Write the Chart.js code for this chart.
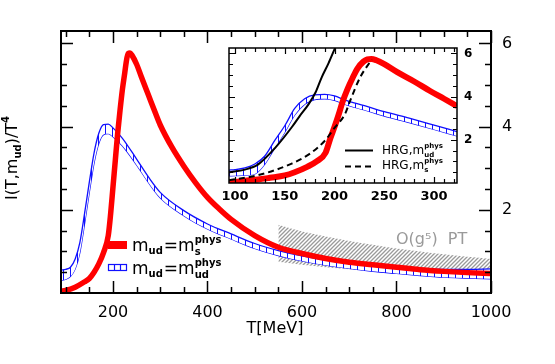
<!DOCTYPE html>
<html><head><meta charset="utf-8">
<script src="https://cdn.jsdelivr.net/npm/chart.js@4/dist/chart.umd.min.js"></script>
<style>
html,body{margin:0;padding:0;background:#fff;}
#wrap{position:relative;width:555px;height:364px;}
#main{position:absolute;left:0;top:0;}
#inset{position:absolute;left:215px;top:40px;}
</style></head>
<body>
<div id="wrap">
<canvas id="main" width="555" height="364"></canvas>
<canvas id="inset" width="270" height="170"></canvas>
</div>
<script>
// ---------- data ----------
// main panel
const redT   = [90,100,120,140,150,160,170,180,190,195,200,205,210,215,220,225,228,232,236,240,250,260,275,290,300,325,350,375,400,425,450,500,550,600,650,700,750,800,850,900,950,1000];
const redVal = [0.04,0.06,0.14,0.27,0.35,0.5,0.7,0.97,1.38,1.9,2.55,3.2,3.85,4.4,4.9,5.3,5.55,5.76,5.77,5.72,5.5,5.2,4.76,4.32,4.04,3.5,3.05,2.65,2.3,2.02,1.77,1.38,1.1,0.95,0.83,0.74,0.68,0.62,0.56,0.52,0.49,0.47];

const blueT     = [90,100,110,120,130,140,150,160,170,180,190,200,220,250,275,300,350,400,450,500,550,600,650,700,750,800,850,900,950,1000];
const blueUpper = [0.55,0.57,0.62,0.82,1.22,1.92,2.67,3.37,3.84,4.05,4.06,3.97,3.72,3.22,2.79,2.42,1.98,1.66,1.42,1.19,1.02,0.89,0.79,0.71,0.65,0.61,0.58,0.57,0.57,0.58];
const blueLower = [0.3,0.33,0.4,0.58,0.98,1.68,2.43,3.13,3.6,3.81,3.83,3.76,3.54,3.08,2.66,2.29,1.86,1.54,1.3,1.07,0.9,0.77,0.67,0.59,0.52,0.47,0.42,0.38,0.36,0.34];

const pertT     = [550,600,650,700,750,800,850,900,950,1000];
const pertUpper = [1.64,1.48,1.36,1.25,1.16,1.07,1.0,0.93,0.87,0.82];
const pertLower = [0.75,0.68,0.62,0.57,0.53,0.5,0.47,0.44,0.42,0.4];

const mainXLabels = [200,400,600,800,1000];
const mainXMinor  = [100,150,250,300,350,450,500,550,650,700,750,850,900,950];
const mainYLabels = [2,4,6];
const mainYMinor  = [0.5,1,1.5,2.5,3,3.5,4.5,5,5.5];

// inset panel
const inRedT   = [94,100,110,123,135,150,160,173,182,191,196,200,204,208,213,218,223,229,233,237,242,250,263,280,296,310,323];
const inRedVal = [0.04,0.05,0.1,0.16,0.24,0.35,0.5,0.76,1.0,1.4,2.1,2.6,3.15,3.75,4.35,4.85,5.3,5.62,5.72,5.74,5.68,5.5,5.13,4.7,4.26,3.9,3.56];

const inBlueT     = [94,100,110,120,130,140,150,160,170,180,190,200,210,230,250,275,300,323];
const inBlueUpper = [0.6,0.62,0.7,0.88,1.25,1.97,2.65,3.45,3.9,4.08,4.1,4.03,3.85,3.58,3.3,3.0,2.68,2.38];
const inBlueLower = [0.33,0.34,0.36,0.42,0.88,1.62,2.35,3.15,3.65,3.86,3.9,3.83,3.65,3.38,3.1,2.8,2.48,2.18];

const hrgUdT   = [94,110,123,141,157,165,174,181,187,194,201,205];
const hrgUdVal = [0.5,0.62,0.85,1.66,2.58,3.1,3.65,4.2,4.88,5.55,6.3,6.7];
const hrgST    = [94,123,157,175,190.5,200,210.6,215.6,225.6,237.4];
const hrgSVal  = [0.13,0.36,0.9,1.35,1.97,2.55,3.2,3.8,4.88,5.72];

const inXLabels = [100,150,200,250,300];
const inXMinor  = [100,110,120,130,140,160,170,180,190,210,220,230,240,260,270,280,290,310,320];
const inYLabels = [2,4,6];
const inYMinor  = [0.5,1,1.5,2.5,3,3.5,4.5,5,5.5];

// ---------- helpers ----------
const FONT = '"DejaVu Sans", sans-serif';
const RED = '#ff0000', BLUE = '#1010ff', GRAY = '#9a9a9a';
const pts = (xs, ys) => xs.map((x, i) => ({x: x, y: ys[i]}));
const noPad = s => { s.paddingTop = 0; s.paddingBottom = 0; s.paddingLeft = 0; s.paddingRight = 0; };

function makePattern(kind) {
  const c = document.createElement('canvas');
  const g = c.getContext('2d');
  if (kind === 'blue') {
    c.width = 7; c.height = 6;
    g.fillStyle = '#fff'; g.fillRect(0, 0, 7, 6);
    g.fillStyle = BLUE; g.fillRect(0, 0, 1, 6);
  } else {
    c.width = 4; c.height = 4;
    g.strokeStyle = GRAY; g.lineWidth = 1.3;
    g.beginPath();
    g.moveTo(-1, 5); g.lineTo(5, -1);
    g.moveTo(-1, 1); g.lineTo(1, -1);
    g.moveTo(3, 5); g.lineTo(5, 3);
    g.stroke();
  }
  return g.createPattern(c, 'repeat');
}

// rich text: parts [{t, size, bold, dy, dx}]
function richText(ctx, x, y, parts, measureOnly) {
  let cx = x;
  for (const p of parts) {
    ctx.font = (p.bold ? 'bold ' : '') + p.size + 'px ' + FONT;
    if (p.dx) cx += p.dx;
    if (!measureOnly) ctx.fillText(p.t, cx, y + (p.dy || 0));
    if (!p.noAdvance) cx += ctx.measureText(p.t).width;
  }
  return cx - x;
}

function tickPlugin(cfg) {
  return {
    id: 'ticks_' + cfg.name,
    beforeDraw(chart) {
      if (cfg.whiteArea) {
        const a = chart.chartArea, ctx = chart.ctx;
        ctx.save(); ctx.fillStyle = '#fff';
        ctx.fillRect(a.left, a.top, a.right - a.left, a.bottom - a.top);
        ctx.restore();
      }
    },
    afterDraw(chart) {
      const ctx = chart.ctx, a = chart.chartArea;
      const xs = chart.scales.x, ys = chart.scales[cfg.yId];
      ctx.save();
      ctx.strokeStyle = '#000'; ctx.lineWidth = cfg.lw;
      ctx.beginPath();
      const xt = (v, len) => { const p = Math.round(xs.getPixelForValue(v)) + 0.5;
        ctx.moveTo(p, a.bottom); ctx.lineTo(p, a.bottom - len);
        ctx.moveTo(p, a.top); ctx.lineTo(p, a.top + len); };
      const yt = (v, len) => { const p = Math.round(ys.getPixelForValue(v)) + 0.5;
        ctx.moveTo(a.left, p); ctx.lineTo(a.left + len, p);
        ctx.moveTo(a.right, p); ctx.lineTo(a.right - len, p); };
      cfg.xMajor.forEach(v => xt(v, cfg.major));
      cfg.xMinor.forEach(v => xt(v, cfg.minor));
      cfg.yMajor.forEach(v => yt(v, cfg.major));
      cfg.yMinor.forEach(v => yt(v, cfg.minor));
      ctx.stroke();
      ctx.lineWidth = cfg.frame;
      ctx.strokeRect(a.left, a.top, a.right - a.left, a.bottom - a.top);
      ctx.restore();
      if (cfg.extra) cfg.extra(chart);
    }
  };
}

// ---------- main chart ----------
const bluePat = makePattern('blue');
const grayPat = makePattern('gray');

function mainText(chart) {
  const ctx = chart.ctx;
  ctx.save();
  ctx.fillStyle = '#000';
  ctx.textBaseline = 'alphabetic';
  // x title
  ctx.font = '16px ' + FONT; ctx.textAlign = 'center';
  ctx.fillText('T[MeV]', 275, 333);
  // y title (rotated)
  ctx.save();
  ctx.translate(17, 158); ctx.rotate(-Math.PI / 2);
  ctx.textAlign = 'left';
  const yParts = [{t:'I(T,m', size:16}, {t:'ud', size:10, bold:true, dy:4}, {t:')/T', size:16}, {t:'4', size:10, bold:true, dy:-8}];
  const w = richText(ctx, 0, 0, yParts, true);
  richText(ctx, -w / 2, 0, yParts);
  ctx.restore();
  // PT label
  ctx.fillStyle = GRAY; ctx.textAlign = 'left';
  ctx.font = '16px ' + FONT;
  ctx.fillText('O(g\u2075)  PT', 396, 244);
  // legend
  ctx.fillStyle = RED;
  ctx.fillRect(108, 241, 19, 8);
  ctx.strokeStyle = BLUE; ctx.lineWidth = 1.2;
  ctx.strokeRect(108.5, 264.5, 18, 6);
  ctx.beginPath(); ctx.moveTo(114.5, 264.5); ctx.lineTo(114.5, 270.5);
  ctx.moveTo(120.5, 264.5); ctx.lineTo(120.5, 270.5); ctx.stroke();
  ctx.fillStyle = '#000';
  richText(ctx, 132, 251, [{t:'m', size:17}, {t:'ud', size:10, bold:true, dy:3}, {t:'=', size:17, dx:1}, {t:'m', size:17},
    {t:'phys', size:10, bold:true, dy:-8, noAdvance:true}, {t:'s', size:10, bold:true, dy:4}]);
  richText(ctx, 132, 274, [{t:'m', size:17}, {t:'ud', size:10, bold:true, dy:3}, {t:'=', size:17, dx:1}, {t:'m', size:17},
    {t:'phys', size:10, bold:true, dy:-8, noAdvance:true}, {t:'ud', size:10, bold:true, dy:4}]);
  ctx.restore();
}

new Chart(document.getElementById('main'), {
  type: 'line',
  data: { datasets: [
    { data: pts(redT, redVal), borderColor: RED, borderWidth: 5.5, fill: false, cubicInterpolationMode: 'monotone' },
    { data: pts(blueT, blueUpper), borderColor: BLUE, borderWidth: 1.3, fill: '+1', backgroundColor: bluePat, cubicInterpolationMode: 'monotone' },
    { data: pts(blueT, blueLower), borderColor: BLUE, borderWidth: 1.3, fill: false, cubicInterpolationMode: 'monotone' },
    { data: pts(pertT, pertUpper), borderWidth: 0, borderColor: 'rgba(0,0,0,0)', fill: '+1', backgroundColor: grayPat, cubicInterpolationMode: 'monotone' },
    { data: pts(pertT, pertLower), borderWidth: 0, borderColor: 'rgba(0,0,0,0)', fill: false, cubicInterpolationMode: 'monotone' }
  ]},
  options: {
    responsive: false, animation: false, devicePixelRatio: 1,
    layout: { padding: { top: 31, left: 0, right: 0, bottom: 0 } },
    elements: { point: { radius: 0 } },
    plugins: { legend: { display: false }, tooltip: { enabled: false } },
    scales: {
      x: { type: 'linear', position: 'bottom', min: 90, max: 1000,
        grid: { display: false, drawTicks: false }, border: { display: false },
        afterBuildTicks: s => { s.ticks = mainXLabels.map(v => ({ value: v })); },
        ticks: { color: '#000', font: { family: FONT, size: 16 }, padding: 10, maxRotation: 0, autoSkip: false, callback: v => String(v) },
        afterFit: s => { s.height = 71; noPad(s); } },
      y: { type: 'linear', position: 'left', min: 0, max: 6.3,
        grid: { display: false, drawTicks: false }, border: { display: false },
        ticks: { display: false },
        afterFit: s => { s.width = 61; noPad(s); } },
      y2: { type: 'linear', position: 'right', min: 0, max: 6.3,
        grid: { display: false, drawTicks: false }, border: { display: false },
        afterBuildTicks: s => { s.ticks = mainYLabels.map(v => ({ value: v })); },
        ticks: { color: '#000', font: { family: FONT, size: 16 }, padding: 11, autoSkip: false, callback: v => String(v) },
        afterFit: s => { s.width = 64; noPad(s); } }
    }
  },
  plugins: [tickPlugin({ name: 'main', yId: 'y2', lw: 1.5, frame: 2, major: 12, minor: 6,
    xMajor: mainXLabels, xMinor: mainXMinor, yMajor: mainYLabels, yMinor: mainYMinor, extra: mainText })]
});

// ---------- inset chart ----------
function insetText(chart) {
  const ctx = chart.ctx;
  ctx.save();
  ctx.strokeStyle = '#000'; ctx.lineWidth = 2;
  ctx.beginPath(); ctx.moveTo(130, 110.5); ctx.lineTo(158, 110.5); ctx.stroke();
  ctx.setLineDash([6, 4]);
  ctx.beginPath(); ctx.moveTo(130, 126.5); ctx.lineTo(158, 126.5); ctx.stroke();
  ctx.setLineDash([]);
  ctx.fillStyle = '#000'; ctx.textAlign = 'left'; ctx.textBaseline = 'alphabetic';
  richText(ctx, 167, 114, [{t:'HRG,m', size:12}, {t:'phys', size:7, bold:true, dy:-6, noAdvance:true}, {t:'ud', size:7, bold:true, dy:3}]);
  richText(ctx, 167, 129, [{t:'HRG,m', size:12}, {t:'phys', size:7, bold:true, dy:-6, noAdvance:true}, {t:'s', size:7, bold:true, dy:3}]);
  ctx.restore();
}

new Chart(document.getElementById('inset'), {
  type: 'line',
  data: { datasets: [
    { data: pts(hrgUdT, hrgUdVal), borderColor: '#000', borderWidth: 2, fill: false, cubicInterpolationMode: 'monotone' },
    { data: pts(hrgST, hrgSVal), borderColor: '#000', borderWidth: 2, borderDash: [6, 4], fill: false, cubicInterpolationMode: 'monotone' },
    { data: pts(inRedT, inRedVal), borderColor: RED, borderWidth: 6, fill: false, cubicInterpolationMode: 'monotone' },
    { data: pts(inBlueT, inBlueUpper), borderColor: BLUE, borderWidth: 1.3, fill: '+1', backgroundColor: bluePat, cubicInterpolationMode: 'monotone' },
    { data: pts(inBlueT, inBlueLower), borderColor: BLUE, borderWidth: 1.3, fill: false, cubicInterpolationMode: 'monotone' }
  ]},
  options: {
    responsive: false, animation: false, devicePixelRatio: 1,
    layout: { padding: { top: 8, left: 14, right: 0, bottom: 0 } },
    elements: { point: { radius: 0 } },
    plugins: { legend: { display: false }, tooltip: { enabled: false } },
    scales: {
      x: { type: 'linear', position: 'bottom', min: 94, max: 323,
        grid: { display: false, drawTicks: false }, border: { display: false },
        afterBuildTicks: s => { s.ticks = inXLabels.map(v => ({ value: v })); },
        ticks: { color: '#000', font: { family: FONT, size: 13, weight: 'bold' }, padding: 6, maxRotation: 0, autoSkip: false, callback: v => String(v) },
        afterFit: s => { s.height = 27; noPad(s); } },
      y: { type: 'linear', position: 'right', min: 0, max: 6.25,
        grid: { display: false, drawTicks: false }, border: { display: false },
        afterBuildTicks: s => { s.ticks = inYLabels.map(v => ({ value: v })); },
        ticks: { color: '#000', font: { family: FONT, size: 12, weight: 'bold' }, padding: 7, autoSkip: false, callback: v => String(v) },
        afterFit: s => { s.width = 28; noPad(s); } }
    }
  },
  plugins: [tickPlugin({ name: 'inset', yId: 'y', lw: 1.2, frame: 1.5, major: 6, minor: 4, whiteArea: true,
    xMajor: inXLabels, xMinor: inXMinor, yMajor: inYLabels, yMinor: inYMinor, extra: insetText })]
});
</script>
</body></html>
